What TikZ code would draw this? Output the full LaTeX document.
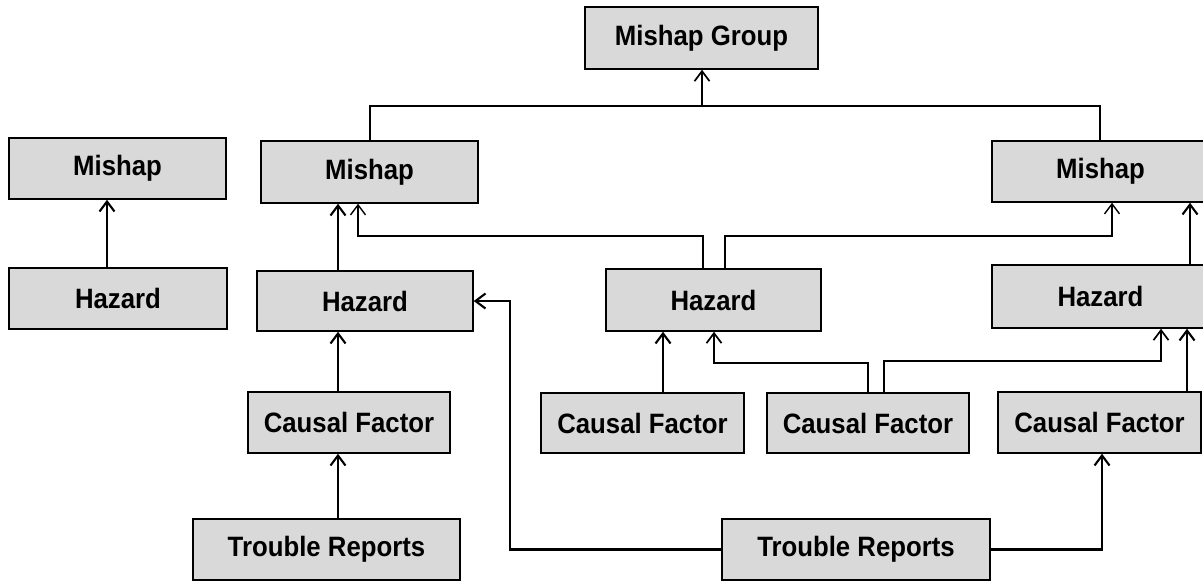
\documentclass[tikz,border=0pt]{standalone}
\usepackage{fontspec}
\newfontfamily\boxfam[FakeStretch=0.92]{Liberation Sans}
\usetikzlibrary{arrows.meta}
\definecolor{boxgray}{RGB}{217,217,217}
\tikzset{
  box/.style={draw=black, line width=1.5pt, fill=boxgray, inner sep=0pt,
    font=\boxfam\bfseries\fontsize{28}{30}\selectfont},
  thickarr/.style={line width=2.1pt, -{Straight Barb[length=10pt,width=15pt]}},
  midarr/.style={line width=1.7pt, -{Straight Barb[length=10pt,width=15pt]}},
  thinarr/.style={line width=1.4pt, -{Straight Barb[length=10pt,width=15pt]}},
  thinline/.style={line width=1.3pt},
}
\begin{document}
\begin{tikzpicture}[x=1pt,y=-1pt]
\useasboundingbox (0,0) rectangle (1203,581);
\clip (0,0) rectangle (1203,581);
\fill[white] (0,0) rectangle (1203,581);
% boxes
\node[box, minimum width=233pt, minimum height=62pt] (grp) at (701.5,38) {Mishap Group};
\node[box, minimum width=217pt, minimum height=61pt] (m0) at (117.5,168.5) {Mishap};
\node[box, minimum width=218pt, minimum height=61pt] (h0) at (118,298.5) {Hazard};
\node[box, minimum width=217pt, minimum height=62pt] (m1) at (369.5,172) {Mishap};
\node[box, minimum width=216pt, minimum height=60pt] (h1) at (365,301) {Hazard};
\node[box, minimum width=202pt, minimum height=61pt] (cf1) at (349,422.5) {Causal Factor};
\node[box, minimum width=267pt, minimum height=61pt] (tr1) at (326.5,549.5) {Trouble Reports};
\node[box, minimum width=215pt, minimum height=62pt] (h2) at (713.5,300) {Hazard};
\node[box, minimum width=203pt, minimum height=60pt] (cf2) at (642.5,423) {Causal Factor};
\node[box, minimum width=202pt, minimum height=60pt] (cf3) at (868,423) {Causal Factor};
\node[box, minimum width=217pt, minimum height=61pt] (m3) at (1100.5,171.5) {Mishap};
\node[box, minimum width=217pt, minimum height=63pt] (h3) at (1100.5,296.5) {Hazard};
\node[box, minimum width=203pt, minimum height=61pt] (cf4) at (1099.5,422.5) {Causal Factor};
\node[box, minimum width=268pt, minimum height=61pt] (tr2) at (856,549.5) {Trouble Reports};
% guide coordinates
\coordinate (c107) at (107,0);
\coordinate (c338) at (338,0);
\coordinate (c510) at (510,0);
\coordinate (c1102) at (1102,0);
\coordinate (c370) at (370,0);
\coordinate (c1100) at (1100,0);
\coordinate (grpbar) at (702,106);
\coordinate (c703) at (703,0);
\coordinate (c725) at (725,0);
\coordinate (b1) at (358,236);
\coordinate (b2) at (1112,236);
\coordinate (c663) at (663,0);
\coordinate (c868) at (868,0);
\coordinate (c884) at (884,0);
\coordinate (b3) at (714,363);
\coordinate (b4) at (1161,361);
\coordinate (c1190) at (1190,0);
\coordinate (c1187) at (1187,0);
% connectors
\draw[thickarr] (h0.north -| c107) -- (m0.south -| c107);
\draw[thickarr] (h1.north -| c338) -- (m1.south -| c338);
\draw[thickarr] (cf1.north -| c338) -- (h1.south -| c338);
\draw[thickarr] (tr1.north -| c338) -- (cf1.south -| c338);
\draw[thickarr] (tr2.west) -| (c510 |- h1.east) -- (h1.east);
\draw[thickarr] (tr2.east) -| (cf4.south -| c1102);
\draw[thinline] (m1.north -| c370) |- (grpbar) -| (m3.north -| c1100);
\draw[midarr] (grpbar) -- (grp.south -| grpbar);
\draw[thinarr] (h2.north -| c703) |- (b1) -- (m1.south -| b1);
\draw[thinarr] (h2.north -| c725) |- (b2) -- (m3.south -| b2);
\draw[thickarr] (cf2.north -| c663) -- (h2.south -| c663);
\draw[midarr] (cf3.north -| c868) |- (b3) -- (h2.south -| b3);
\draw[midarr] (cf3.north -| c884) |- (b4) -- (h3.south -| b4);
\draw[thickarr] (h3.north -| c1190) -- (m3.south -| c1190);
\draw[thickarr] (cf4.north -| c1187) -- (h3.south -| c1187);
\end{tikzpicture}
\end{document}
